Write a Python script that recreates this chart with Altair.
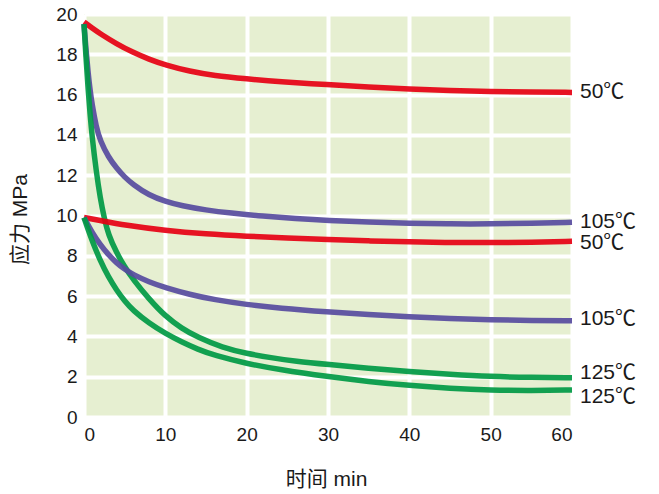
import altair as alt
import pandas as pd

# ---- data ----
red_hi_t = [0, 1, 2, 4, 6, 8, 10, 13, 16, 20, 24, 30, 35, 40, 45, 50, 55, 60]
red_hi_v = [19.6, 19.3, 19.02, 18.52, 18.1, 17.75, 17.47, 17.15, 16.94, 16.78, 16.64, 16.49, 16.38, 16.28, 16.2, 16.15, 16.12, 16.11]

pur_hi_t = [0, 0.25, 0.5, 0.75, 1, 1.5, 2, 3, 4, 5, 6, 8, 10, 12, 15, 18, 22, 26, 30, 35, 40, 45, 50, 55, 60]
pur_hi_v = [19.5, 18.2, 17.1, 16.2, 15.5, 14.4, 13.7, 12.9, 12.35, 11.9, 11.55, 11.0, 10.7, 10.48, 10.27, 10.12, 9.97, 9.85, 9.75, 9.67, 9.61, 9.58, 9.58, 9.61, 9.66]

grn_hi_t = [0, 0.25, 0.5, 0.75, 1, 1.5, 2, 2.5, 3, 4, 5, 6, 8, 10, 12, 14, 17, 20, 23, 26, 30, 35, 40, 45, 50, 55, 60]
grn_hi_v = [19.5, 17.8, 16.3, 15.0, 13.9, 12.2, 10.85, 9.85, 9.05, 8.15, 7.45, 6.85, 5.85, 5.0, 4.4, 3.95, 3.45, 3.15, 2.94, 2.77, 2.61, 2.42, 2.25, 2.12, 2.01, 1.96, 1.95]

red_lo_t = [0, 2, 5, 10, 15, 20, 25, 30, 35, 40, 45, 50, 55, 60]
red_lo_v = [9.9, 9.75, 9.52, 9.25, 9.08, 8.97, 8.88, 8.8, 8.74, 8.69, 8.66, 8.65, 8.67, 8.72]

pur_lo_t = [0, 1, 2, 3, 4, 5, 6, 8, 10, 13, 16, 20, 24, 30, 35, 40, 45, 50, 55, 60]
pur_lo_v = [9.9, 9.15, 8.55, 8.05, 7.65, 7.33, 7.07, 6.7, 6.42, 6.08, 5.82, 5.58, 5.4, 5.21, 5.08, 4.97, 4.88, 4.82, 4.79, 4.78]

grn_lo_t = [0, 0.5, 1, 2, 3, 4, 5, 6, 8, 10, 12, 14, 16, 20, 24, 30, 35, 40, 45, 50, 55, 60]
grn_lo_v = [9.9, 9.3, 8.75, 7.75, 6.95, 6.3, 5.75, 5.3, 4.65, 4.15, 3.72, 3.36, 3.06, 2.65, 2.35, 2.0, 1.76, 1.56, 1.42, 1.33, 1.31, 1.34]

series_ids = ["red_hi", "pur_hi", "grn_hi", "red_lo", "pur_lo", "grn_lo"]
series_t = [red_hi_t, pur_hi_t, grn_hi_t, red_lo_t, pur_lo_t, grn_lo_t]
series_v = [red_hi_v, pur_hi_v, grn_hi_v, red_lo_v, pur_lo_v, grn_lo_v]
series_colors = ["#e60012", "#574b9e", "#009944", "#e60012", "#574b9e", "#009944"]

label_texts = ["50℃", "105℃", "50℃", "105℃", "125℃", "125℃"]
label_y = [16.14, 9.69, 8.65, 4.86, 2.18, 1.0]
label_x = [60, 60, 60, 60, 60, 60]

x_ticks = [0, 10, 20, 30, 40, 50, 60]
y_ticks = [0, 2, 4, 6, 8, 10, 12, 14, 16, 18, 20]

FONT = "Liberation Sans, Noto Sans CJK SC, sans-serif"

rows = []
for sid, ts, vs in zip(series_ids, series_t, series_v):
    for t, v in zip(ts, vs):
        rows.append({"series": sid, "t": t, "v": v})
df = pd.DataFrame(rows)

lab = pd.DataFrame({"t": label_x, "v": label_y, "text": label_texts})

xscale = alt.Scale(domain=[0, 60], nice=False, zero=False)
yscale = alt.Scale(domain=[0, 20], nice=False)

lines = alt.Chart(df).mark_line(
    strokeWidth=5.5, interpolate="basis", opacity=0.92, clip=False,
    strokeCap="butt"
).encode(
    x=alt.X("t:Q", scale=xscale,
            axis=alt.Axis(values=x_ticks, title="时间 min", grid=True,
                          gridColor="white", gridWidth=4, gridOpacity=1,
                          domain=False, ticks=False, labelFontSize=19,
                          labelPadding=8, labelColor="#1a1a1a",
                          titleFontSize=21, titleFontWeight="normal",
                          titleColor="#1a1a1a", titleX=242, titleY=62,
                          titleBaseline="middle", titleAlign="center")),
    y=alt.Y("v:Q", scale=yscale,
            axis=alt.Axis(values=y_ticks, title="应力 MPa", grid=True,
                          gridColor="white", gridWidth=4, gridOpacity=1,
                          domain=False, ticks=False, labelFontSize=19,
                          labelPadding=7, labelColor="#1a1a1a",
                          titleFontSize=21, titleFontWeight="normal",
                          titleColor="#1a1a1a", titleX=-64, titleY=205,
                          titleBaseline="middle", titleAlign="center",
                          titleAngle=270)),
    color=alt.Color("series:N", scale=alt.Scale(domain=series_ids, range=series_colors),
                    legend=None),
    detail="series:N",
)

labels = alt.Chart(lab).mark_text(
    align="left", baseline="middle", dx=8, fontSize=21, font=FONT,
    color="#1a1a1a", clip=False
).encode(
    x=alt.X("t:Q", scale=xscale),
    y=alt.Y("v:Q", scale=yscale),
    text="text:N",
)

chart = alt.layer(lines, labels).properties(
    width=488, height=403,
    autosize=alt.AutoSizeParams(type="none"),
    padding={"left": 84, "top": 14, "right": 87, "bottom": 77},
    background="white",
).configure_view(
    fill="#e6efd1", stroke=None
).configure_axis(
    labelFont=FONT, titleFont=FONT
)

chart.save("out.html", embed_options={"renderer": "svg", "actions": False})
